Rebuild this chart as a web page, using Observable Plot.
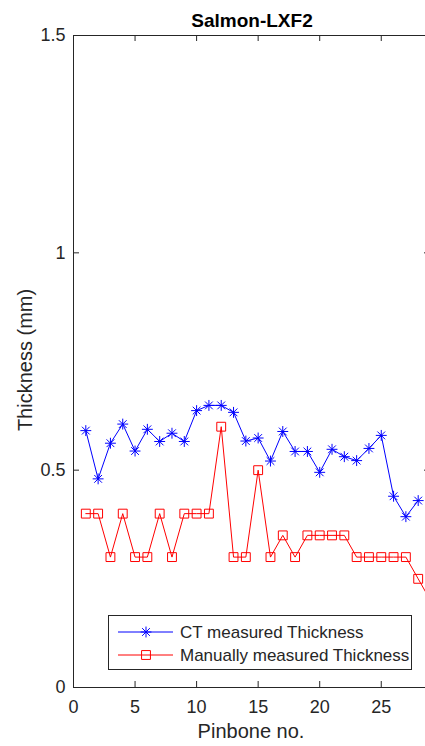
<!DOCTYPE html>
<html>
<head>
<meta charset="utf-8">
<script src="https://cdn.jsdelivr.net/npm/d3@7"></script>
<script src="https://cdn.jsdelivr.net/npm/@observablehq/plot@0.6"></script>
<style>
  html, body { margin: 0; padding: 0; background: white; }
  #wrap { width: 425px; height: 746px; overflow: hidden; position: relative; }
</style>
</head>
<body>
<div id="wrap"></div>
<script>
const title = "Salmon-LXF2";
const xLabel = "Pinbone no.";
const yLabel = "Thickness (mm)";
const ctLabel = "CT measured Thickness";
const manualLabel = "Manually measured Thickness";

const ctPinbone = [1,2,3,4,5,6,7,8,9,10,11,12,13,14,15,16,17,18,19,20,21,22,23,24,25,26,27,28];
const ctThickness = [0.591,0.480,0.562,0.606,0.544,0.594,0.566,0.585,0.566,0.637,0.649,0.649,0.633,0.567,0.574,0.521,0.589,0.543,0.543,0.495,0.548,0.531,0.522,0.550,0.580,0.440,0.393,0.430];

const manualPinbone = [1,2,3,4,5,6,7,8,9,10,11,12,13,14,15,16,17,18,19,20,21,22,23,24,25,26,27,28,29];
const manualThickness = [0.4,0.4,0.3,0.4,0.3,0.3,0.4,0.3,0.4,0.4,0.4,0.6,0.3,0.3,0.5,0.3,0.35,0.3,0.35,0.35,0.35,0.35,0.3,0.3,0.3,0.3,0.3,0.25,0.2];

const xTicks = [0,5,10,15,20,25];
const yTicks = [0,0.5,1,1.5];

const ct = ctPinbone.map((p,i) => ({x: p, y: ctThickness[i]}));
const manual = manualPinbone.map((p,i) => ({x: p, y: manualThickness[i]}));

const W = 430, H = 746;
const mL = 73, mR = 0, mT = 35, mB = 59;
const fw = W - mL - mR, fh = H - mT - mB;
const tick = 6;
const ink = "#262626";
const font = "'Liberation Sans', Arial, Helvetica, sans-serif";

const svg = Plot.plot({
  width: W, height: H,
  marginLeft: mL, marginRight: mR, marginTop: mT, marginBottom: mB,
  style: `max-width:none;font-family:${font};color:${ink};background:white;overflow:hidden;`,
  x: {domain: [0, 29], label: null},
  y: {domain: [0, 1.5], label: null},
  marks: [
    Plot.axisX({ticks: xTicks, tickSize: 0, tickPadding: 13, fontSize: 18, tickFormat: d => String(d), label: null}),
    Plot.axisY({ticks: yTicks, tickSize: 0, tickPadding: 8, fontSize: 18, tickFormat: d => String(d), label: null}),
    Plot.tickX(xTicks, {x: d => d, insetTop: fh - tick, stroke: ink, strokeWidth: 1}),
    Plot.tickX(xTicks, {x: d => d, insetBottom: fh - tick, stroke: ink, strokeWidth: 1}),
    Plot.tickY(yTicks, {y: d => d, insetRight: fw - tick, stroke: ink, strokeWidth: 1}),
    Plot.tickY(yTicks, {y: d => d, insetLeft: fw - tick, stroke: ink, strokeWidth: 1}),
    Plot.line(ct, {x: "x", y: "y", stroke: "#0000ff", strokeWidth: 1}),
    Plot.dot(ct, {x: "x", y: "y", symbol: "plus", r: 3.6, stroke: "#0000ff", strokeWidth: 1}),
    Plot.dot(ct, {x: "x", y: "y", symbol: "times", r: 3.6, stroke: "#0000ff", strokeWidth: 1}),
    Plot.line(manual, {x: "x", y: "y", stroke: "#ff0000", strokeWidth: 1}),
    Plot.dot(manual, {x: "x", y: "y", symbol: "square", r: 5, fill: "none", stroke: "#ff0000", strokeWidth: 1}),
    Plot.frame({stroke: ink, strokeWidth: 1})
  ]
});

const s = d3.select(svg);

// Title
s.append("text").attr("x", 252).attr("y", 27).attr("text-anchor", "middle")
  .attr("font-size", 19).attr("font-weight", "bold").attr("fill", "#000").attr("font-family", font)
  .text(title);

// X label
s.append("text").attr("x", 251).attr("y", 738).attr("text-anchor", "middle")
  .attr("font-size", 20).attr("fill", ink).attr("font-family", font)
  .text(xLabel);

// Y label
s.append("text").attr("transform", "translate(32,360) rotate(-90)").attr("text-anchor", "middle")
  .attr("font-size", 20).attr("fill", ink).attr("font-family", font)
  .text(yLabel);

// Legend
const lg = s.append("g");
lg.append("rect").attr("x", 108.5).attr("y", 615.5).attr("width", 303).attr("height", 54)
  .attr("fill", "white").attr("stroke", ink).attr("stroke-width", 1);
const rows = [
  {label: ctLabel, color: "#0000ff", sym: "ast", y: 632},
  {label: manualLabel, color: "#ff0000", sym: "sq", y: 655}
];
rows.forEach(r => {
  lg.append("line").attr("x1", 118).attr("x2", 173).attr("y1", r.y).attr("y2", r.y)
    .attr("stroke", r.color).attr("stroke-width", 1);
  if (r.sym === "ast") {
    const size = Math.PI * 3.6 * 3.6;
    lg.append("path").attr("transform", `translate(146,${r.y})`)
      .attr("d", d3.symbol(d3.symbolPlus, size)()).attr("fill", "none").attr("stroke", r.color);
    lg.append("path").attr("transform", `translate(146,${r.y})`)
      .attr("d", d3.symbol(d3.symbolTimes, size)()).attr("fill", "none").attr("stroke", r.color);
  } else {
    const size = Math.PI * 25;
    lg.append("path").attr("transform", `translate(146,${r.y})`)
      .attr("d", d3.symbol(d3.symbolSquare, size)()).attr("fill", "none").attr("stroke", r.color);
  }
  lg.append("text").attr("x", 180).attr("y", r.y + 6).attr("font-size", 17)
    .attr("text-anchor", "start")
    .attr("fill", ink).attr("font-family", font).text(r.label);
});

document.getElementById("wrap").appendChild(svg);
</script>
</body>
</html>
